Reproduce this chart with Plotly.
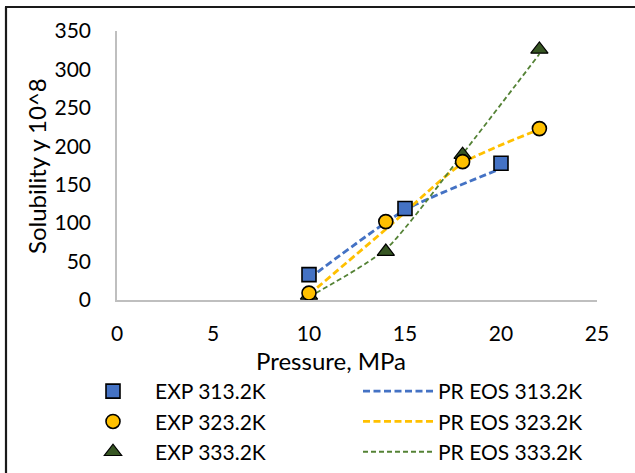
import plotly.graph_objects as go

# Experimental data
p_313 = [10, 15, 20]
y_exp_313 = [33, 119, 178]
p_323 = [10, 14, 18, 22]
y_exp_323 = [9, 102, 180, 223]
p_333 = [10, 14, 18, 22]
y_exp_333 = [6, 63, 189, 326]

# PR EOS model
y_pr_313 = [28, 117, 171]
y_pr_323 = [7, 92, 178, 222]
y_pr_333 = [4, 66, 190, 320]

x_ticks = [0, 5, 10, 15, 20, 25]
y_ticks = [0, 50, 100, 150, 200, 250, 300, 350]

FONT = "Lato"
blue, yellow, green_m, green_l = "#4472C4", "#FFC000", "#375623", "#548235"

fig = go.Figure()

# PR EOS lines
fig.add_trace(go.Scatter(x=p_313, y=y_pr_313, mode="lines", name="PR EOS 313.2K",
                         line=dict(color=blue, width=2.8, dash="7px,3.5px", shape="spline", smoothing=0.6),
                         legend="legend2"))
fig.add_trace(go.Scatter(x=p_323, y=y_pr_323, mode="lines", name="PR EOS 323.2K",
                         line=dict(color=yellow, width=2.8, dash="7px,3.5px", shape="spline", smoothing=0.6),
                         legend="legend2"))
fig.add_trace(go.Scatter(x=p_333, y=y_pr_333, mode="lines", name="PR EOS 333.2K",
                         line=dict(color=green_l, width=1.8, dash="5px,3px", shape="spline", smoothing=0.6),
                         legend="legend2"))

# Experimental markers
fig.add_trace(go.Scatter(x=p_313, y=y_exp_313, mode="markers", name="EXP 313.2K",
                         marker=dict(symbol="square", size=14, color=blue,
                                     line=dict(color="black", width=1.6))))
fig.add_trace(go.Scatter(x=p_333, y=y_exp_333, mode="markers", name="EXP 333.2K",
                         marker=dict(symbol="triangle-up", size=15, color=green_m,
                                     line=dict(color="black", width=1.2))))
fig.add_trace(go.Scatter(x=p_323, y=y_exp_323, mode="markers", name="EXP 323.2K",
                         marker=dict(symbol="circle", size=14, color=yellow,
                                     line=dict(color="black", width=1.6))))

W, H = 635, 473
L, T = 117, 31
R = W - 597
B = H - 300
pw, ph = W - L - R, H - T - B

def px(x):
    return (x - L) / pw

def py(y):
    return (H - B - y) / ph

fig.update_layout(
    width=W, height=H,
    margin=dict(l=L, r=R, t=T, b=B, autoexpand=False),
    paper_bgcolor="white", plot_bgcolor="white",
    font=dict(family=FONT, size=21, color="black"),
    xaxis=dict(range=[0, 25], tickvals=x_ticks, showgrid=False, zeroline=False,
               showline=True, linecolor="#BFBFBF", linewidth=1.5, ticks="",
               ticklabelstandoff=14),
    yaxis=dict(range=[0, 350], tickvals=y_ticks, showgrid=False, zeroline=False,
               showline=True, linecolor="#BFBFBF", linewidth=1.5, ticks="",
               ticklabelstandoff=20),
    legend=dict(x=px(71), y=py(371), xanchor="left", yanchor="top",
                traceorder="normal", font=dict(size=21), bgcolor="rgba(0,0,0,0)",
                tracegroupgap=0, itemwidth=74),
    legend2=dict(x=px(358), y=py(371), xanchor="left", yanchor="top",
                 traceorder="normal", font=dict(size=21), bgcolor="rgba(0,0,0,0)",
                 tracegroupgap=0, itemwidth=70),
    showlegend=True,
)

fig.add_annotation(text="Pressure, MPa", xref="paper", yref="paper",
                   x=px(331), y=py(360), xanchor="center", yanchor="middle",
                   showarrow=False, font=dict(size=24))
fig.add_annotation(text="Solubility y 10^8", xref="paper", yref="paper",
                   x=px(36), y=py(166), xanchor="center", yanchor="middle",
                   textangle=-90, showarrow=False, font=dict(size=24))

# legend order for EXP: 313, 323, 333
fig.data[3].legendrank = 1
fig.data[5].legendrank = 2
fig.data[4].legendrank = 3

# chart border (cropped at right and bottom)
fig.add_shape(type="line", xref="paper", yref="paper", x0=px(5), x1=px(640), y0=py(7), y1=py(7),
              line=dict(color="#1a1a1a", width=2.2))
fig.add_shape(type="line", xref="paper", yref="paper", x0=px(6), x1=px(6), y0=py(7), y1=py(480),
              line=dict(color="#1a1a1a", width=2.2))

fig.write_html("out.html", config={"displayModeBar": False},
               post_script="document.body.style.margin='0';document.body.style.overflow='hidden';")
